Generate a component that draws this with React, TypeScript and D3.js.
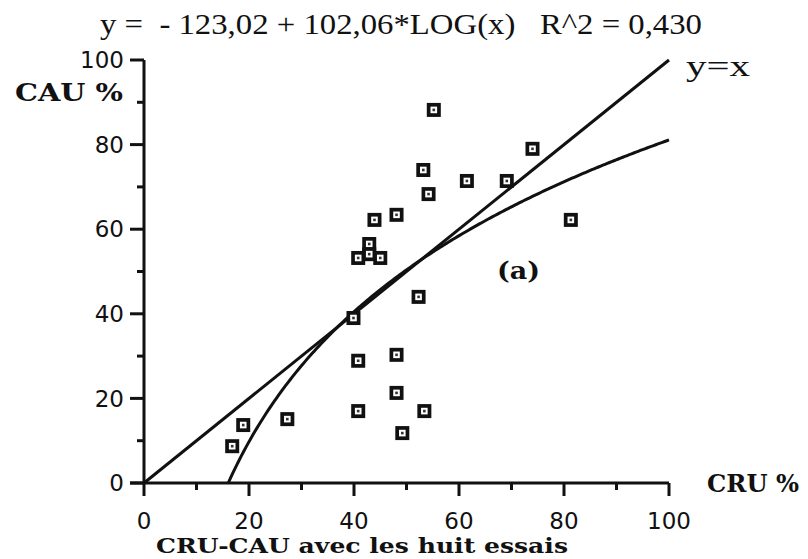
import React from "react";
import * as d3 from "d3";

const cruValues = [16.8, 18.9, 27.3, 39.9, 40.8, 40.8, 40.8, 42.9, 42.9, 45.0, 43.9, 48.1, 52.3, 48.1, 48.1, 53.4, 49.2, 55.2, 74.0, 53.2, 61.5, 69.1, 54.2, 81.3];
const cauValues = [8.7, 13.7, 15.1, 39.0, 53.2, 28.9, 17.0, 56.5, 54.1, 53.2, 62.2, 63.4, 44.0, 30.3, 21.3, 17.0, 11.8, 88.2, 79.0, 74.0, 71.4, 71.4, 68.3, 62.2];
const majorTicks = [0, 20, 40, 60, 80, 100];
const minorTicks = [10, 30, 50, 70, 90];
const regA = -123.02;
const regB = 102.06;

export default function App() {
  const W = 808, H = 559;
  const x = d3.scaleLinear().domain([0, 100]).range([144, 669]);
  const y = d3.scaleLinear().domain([0, 100]).range([483, 60]);

  const identityLine = d3.line<[number, number]>().x(d => x(d[0])).y(d => y(d[1]));
  const x0 = Math.pow(10, -regA / regB);
  const logPts: [number, number][] = d3.range(0, 201).map(i => {
    const xv = x0 + (100 - x0) * (i / 200);
    return [xv, regA + regB * Math.log10(xv)];
  });

  const serif = "'Liberation Serif', 'Times New Roman', serif";
  const bserif = "'DejaVu Serif', serif";
  const sans = "'DejaVu Sans', sans-serif";

  return (
    <svg width={W} height={H} style={{ position: "absolute", left: 0, top: 0, background: "#fff" }}>
      <rect width={W} height={H} fill="#fff" />
      <text x={100} y={34} fontFamily={serif} fontSize={29} fill="#111" textLength={602} lengthAdjust="spacingAndGlyphs" style={{ whiteSpace: "pre" }}>
        {"y =  - 123,02 + 102,06*LOG(x)   R^2 = 0,430"}
      </text>
      {/* axes */}
      <line x1={x(0)} y1={y(0)} x2={x(0)} y2={y(100)} stroke="#111" strokeWidth={3} />
      <line x1={130} y1={y(0)} x2={x(100)} y2={y(0)} stroke="#111" strokeWidth={3} />
      {majorTicks.map(t => (
        <g key={"my" + t}>
          <line x1={130} x2={x(0)} y1={y(t)} y2={y(t)} stroke="#111" strokeWidth={3} />
          <text x={124} y={y(t)} dy="0.36em" textAnchor="end" fontFamily={sans} fontSize={23} fill="#111">{t}</text>
        </g>
      ))}
      {minorTicks.map(t => (
        <line key={"ny" + t} x1={137} x2={x(0)} y1={y(t)} y2={y(t)} stroke="#111" strokeWidth={3} />
      ))}
      {majorTicks.map(t => (
        <g key={"mx" + t}>
          <line x1={x(t)} x2={x(t)} y1={y(0)} y2={y(0) + 13} stroke="#111" strokeWidth={3} />
          <text x={x(t)} y={529} textAnchor="middle" fontFamily={sans} fontSize={23} fill="#111">{t}</text>
        </g>
      ))}
      {minorTicks.map(t => (
        <line key={"nx" + t} x1={x(t)} x2={x(t)} y1={y(0)} y2={y(0) + 7} stroke="#111" strokeWidth={3} />
      ))}
      {/* lines */}
      <path d={identityLine([[0, 0], [100, 100]]) || ""} fill="none" stroke="#111" strokeWidth={3} />
      <path d={identityLine(logPts) || ""} fill="none" stroke="#111" strokeWidth={3} />
      {/* points */}
      {cruValues.map((cv, i) => {
        const cx = x(cv), cy = y(cauValues[i]);
        return (
          <g key={"p" + i}>
            <rect x={cx - 7} y={cy - 7} width={14} height={14} fill="#111" />
            <rect x={cx - 3.3} y={cy - 3.3} width={6.6} height={6.6} fill="#fff" />
            <rect x={cx - 1.3} y={cy - 1.3} width={2.6} height={2.6} fill="#333" />
          </g>
        );
      })}
      {/* labels */}
      <text x={15} y={101} fontFamily={bserif} fontWeight="bold" fontSize={25} fill="#111" textLength={108} lengthAdjust="spacingAndGlyphs">CAU %</text>
      <text x={707} y={492} fontFamily={bserif} fontWeight="bold" fontSize={25} fill="#111" textLength={92} lengthAdjust="spacingAndGlyphs">CRU %</text>
      <text x={156} y={553} fontFamily={bserif} fontWeight="bold" fontSize={21} fill="#111" textLength={412} lengthAdjust="spacingAndGlyphs">CRU-CAU avec les huit essais</text>
      <text x={497} y={279} fontFamily={bserif} fontWeight="bold" fontSize={24} fill="#111" textLength={43} lengthAdjust="spacingAndGlyphs">(a)</text>
      <text x={686} y={76} fontFamily={serif} fontSize={30} fill="#111" textLength={64} lengthAdjust="spacingAndGlyphs">y=x</text>
    </svg>
  );
}
